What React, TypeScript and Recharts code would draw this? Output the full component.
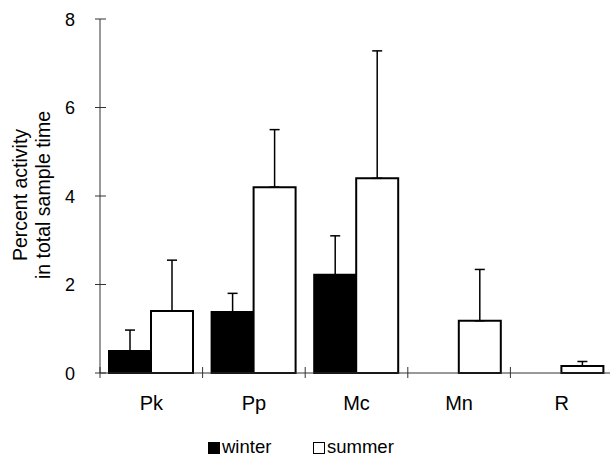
import { BarChart, Bar, XAxis, YAxis, ErrorBar } from "recharts";

const categories = ["Pk", "Pp", "Mc", "Mn", "R"];
const winter = [0.5, 1.38, 2.22, 0, 0];
const winterSd = [0.47, 0.42, 0.88, null, null];
const summer = [1.4, 4.2, 4.4, 1.18, 0.16];
const summerSd = [1.15, 1.3, 2.88, 1.16, 0.1];
const yTicks = [0, 2, 4, 6, 8];

const FONT = "'Liberation Sans', Arial, Helvetica, sans-serif";

// error bars only go up, so the lower part is 0
const data = categories.map((name, i) => ({
    name,
    winter: winter[i],
    summer: summer[i],
    winterErr: winterSd[i] == null ? null : [0, winterSd[i]],
    summerErr: [0, summerSd[i]],
}));

const YTick = ({ x, y, payload }: any) => (
    <g>
        <line x1={x - 5} x2={x + 6} y1={y} y2={y} stroke="#333" />
        <text x={x - 25} y={y + 6.5} textAnchor="end" fontSize={18} fill="#000">
            {payload.value}
        </text>
    </g>
);

const XTick = ({ x, y, payload, index }: any) => {
    const half = payload.offset || 51;
    return (
        <g>
            {index === 0 && (
                <line x1={x - half} x2={x - half} y1={y - 6} y2={y + 5} stroke="#333" />
            )}
            <line x1={x + half} x2={x + half} y1={y - 6} y2={y + 5} stroke="#333" />
            <text x={x} y={y + 36.5} textAnchor="middle" fontSize={20} fill="#000">
                {payload.value}
            </text>
        </g>
    );
};

export default function App() {
    return (
        <div style={{ position: "absolute", left: 0, top: 0, width: 610, height: 457, background: "#fff", fontFamily: FONT, overflow: "hidden" }}>
            <BarChart
                width={610}
                height={457}
                data={data}
                margin={{ top: 19, right: -3, bottom: 44, left: 0 }}
                barGap={0}
            >
                <YAxis
                    width={100}
                    domain={[0, 8]}
                    ticks={yTicks}
                    tickLine={false}
                    tickSize={0}
                    tickMargin={0}
                    tick={<YTick />}
                    axisLine={{ stroke: "#333" }}
                />
                <XAxis
                    dataKey="name"
                    height={40}
                    tickLine={false}
                    tickSize={0}
                    tickMargin={0}
                    tick={<XTick />}
                    axisLine={{ stroke: "#333" }}
                    interval={0}
                />
                <Bar dataKey="winter" barSize={42} fill="#000" stroke="#000" strokeWidth={2} isAnimationActive={false}>
                    <ErrorBar dataKey="winterErr" width={5} stroke="#000" strokeWidth={1.5} direction="y" />
                </Bar>
                <Bar dataKey="summer" barSize={42} fill="#fff" stroke="#000" strokeWidth={2} isAnimationActive={false}>
                    <ErrorBar dataKey="summerErr" width={5} stroke="#000" strokeWidth={1.5} direction="y" />
                </Bar>
            </BarChart>
            <svg width={610} height={457} style={{ position: "absolute", left: 0, top: 0, pointerEvents: "none" }}>
                <g fontSize={19.5} fill="#000" textAnchor="middle">
                    <text x={27} y={195} transform="rotate(-90 27 195)">Percent activity</text>
                    <text x={50} y={195} transform="rotate(-90 50 195)">in total sample time</text>
                </g>
                <rect x={208} y={442} width={12} height={12} fill="#000" />
                <text x={222} y={453} fontSize={18.5} fill="#000">winter</text>
                <rect x={313.5} y={442.5} width={11} height={11} fill="#fff" stroke="#000" />
                <text x={327} y={453} fontSize={18.5} fill="#000">summer</text>
            </svg>
        </div>
    );
}
